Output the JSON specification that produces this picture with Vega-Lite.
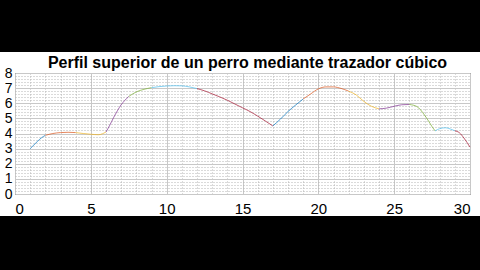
{
  "$schema": "https://vega.github.io/schema/vega-lite/v6.json",
  "width": 455,
  "height": 121,
  "autosize": {"type": "none"},
  "padding": {"left": 15, "top": 73, "right": 10, "bottom": 76},
  "background": "white",
  "config": {"view": {"stroke": "#262626", "strokeWidth": 1}},
  "title": {"text": "Perfil superior de un perro mediante trazador cúbico", "font": "Liberation Sans", "fontSize": 16, "fontWeight": "bold", "color": "black", "offset": 0, "dy": 87, "dx": 5, "anchor": "middle", "frame": "group", "baseline": "bottom"},
  "datasets": {
    "curve": [
      {"x": 1, "y": 3.0, "s": 0}, {"x": 1.25, "y": 3.25, "s": 0}, {"x": 1.5, "y": 3.5, "s": 0}, {"x": 1.75, "y": 3.72, "s": 0}, {"x": 2, "y": 3.88, "s": 0},
      {"x": 2, "y": 3.88, "s": 1}, {"x": 2.5, "y": 4.0, "s": 1}, {"x": 3, "y": 4.06, "s": 1}, {"x": 3.5, "y": 4.08, "s": 1}, {"x": 4, "y": 4.06, "s": 1},
      {"x": 4, "y": 4.06, "s": 2}, {"x": 4.5, "y": 4.0, "s": 2}, {"x": 5, "y": 3.95, "s": 2}, {"x": 5.5, "y": 3.92, "s": 2}, {"x": 6, "y": 4.1, "s": 2},
      {"x": 6, "y": 4.1, "s": 3}, {"x": 6.25, "y": 4.55, "s": 3}, {"x": 6.5, "y": 5.05, "s": 3}, {"x": 6.75, "y": 5.5, "s": 3}, {"x": 7, "y": 5.9, "s": 3}, {"x": 7.25, "y": 6.2, "s": 3}, {"x": 7.5, "y": 6.45, "s": 3},
      {"x": 7.5, "y": 6.45, "s": 4}, {"x": 8, "y": 6.75, "s": 4}, {"x": 8.5, "y": 6.92, "s": 4}, {"x": 9, "y": 7.03, "s": 4},
      {"x": 9, "y": 7.03, "s": 5}, {"x": 9.5, "y": 7.1, "s": 5}, {"x": 10, "y": 7.14, "s": 5}, {"x": 10.5, "y": 7.16, "s": 5}, {"x": 11, "y": 7.15, "s": 5}, {"x": 11.5, "y": 7.08, "s": 5}, {"x": 12, "y": 6.97, "s": 5},
      {"x": 12, "y": 6.97, "s": 6}, {"x": 12.5, "y": 6.82, "s": 6}, {"x": 13, "y": 6.62, "s": 6}, {"x": 13.5, "y": 6.42, "s": 6}, {"x": 14, "y": 6.2, "s": 6}, {"x": 14.5, "y": 5.95, "s": 6}, {"x": 15, "y": 5.7, "s": 6}, {"x": 15.5, "y": 5.45, "s": 6}, {"x": 16, "y": 5.15, "s": 6}, {"x": 16.5, "y": 4.83, "s": 6}, {"x": 17, "y": 4.5, "s": 6},
      {"x": 17, "y": 4.5, "s": 7}, {"x": 17.5, "y": 4.95, "s": 7}, {"x": 18, "y": 5.45, "s": 7}, {"x": 18.5, "y": 5.88, "s": 7}, {"x": 19, "y": 6.28, "s": 7},
      {"x": 19, "y": 6.28, "s": 8}, {"x": 19.5, "y": 6.62, "s": 8}, {"x": 20, "y": 6.95, "s": 8}, {"x": 20.5, "y": 7.08, "s": 8}, {"x": 21, "y": 7.08, "s": 8}, {"x": 21.5, "y": 6.98, "s": 8}, {"x": 22, "y": 6.8, "s": 8},
      {"x": 22, "y": 6.8, "s": 9}, {"x": 22.5, "y": 6.55, "s": 9}, {"x": 23, "y": 6.12, "s": 9}, {"x": 23.5, "y": 5.8, "s": 9}, {"x": 24, "y": 5.63, "s": 9},
      {"x": 24, "y": 5.63, "s": 10}, {"x": 24.5, "y": 5.68, "s": 10}, {"x": 25, "y": 5.8, "s": 10}, {"x": 25.5, "y": 5.9, "s": 10}, {"x": 26, "y": 5.92, "s": 10},
      {"x": 26, "y": 5.92, "s": 11}, {"x": 26.5, "y": 5.78, "s": 11}, {"x": 27, "y": 5.22, "s": 11}, {"x": 27.3, "y": 4.77, "s": 11}, {"x": 27.5, "y": 4.45, "s": 11}, {"x": 27.7, "y": 4.17, "s": 11},
      {"x": 27.7, "y": 4.17, "s": 12}, {"x": 28, "y": 4.32, "s": 12}, {"x": 28.4, "y": 4.38, "s": 12}, {"x": 28.7, "y": 4.3, "s": 12}, {"x": 29, "y": 4.18, "s": 12},
      {"x": 29, "y": 4.18, "s": 13}, {"x": 29.3, "y": 4.05, "s": 13}, {"x": 29.6, "y": 3.7, "s": 13}, {"x": 30, "y": 3.1, "s": 13}
    ]
  },
  "layer": [
    {
      "data": {"name": "curve"},
      "mark": {"type": "line", "opacity": 0},
      "encoding": {
        "x": {"field": "x", "type": "quantitative", "scale": {"domain": [0, 30], "nice": false, "zero": false},
          "axis": {"title": null, "values": [1,2,3,4,6,7,8,9,11,12,13,14,16,17,18,19,21,22,23,24,26,27,28,29], "grid": true, "gridColor": "#b4b4b4", "gridDash": [1, 2], "gridWidth": 1, "labels": false, "ticks": false, "domain": false}},
        "y": {"field": "y", "type": "quantitative", "scale": {"domain": [0, 8], "nice": false, "zero": false},
          "axis": {"title": null, "values": [0.2,0.4,0.6,0.8,1.2,1.4,1.6,1.8,2.2,2.4,2.6,2.8,3.2,3.4,3.6,3.8,4.2,4.4,4.6,4.8,5.2,5.4,5.6,5.8,6.2,6.4,6.6,6.8,7.2,7.4,7.6,7.8], "grid": true, "gridColor": "#b4b4b4", "gridDash": [1, 2], "gridWidth": 1, "labels": false, "ticks": false, "domain": false}}
      }
    },
    {
      "data": {"name": "curve"},
      "mark": {"type": "line", "strokeWidth": 1, "opacity": 0.7, "interpolate": "monotone"},
      "encoding": {
        "x": {"field": "x", "type": "quantitative", "scale": {"domain": [0, 30], "nice": false, "zero": false},
          "axis": {"title": null, "orient": "bottom", "values": [0,5,10,15,20,25,30], "grid": true, "gridColor": "#c8c8c8", "gridWidth": 1, "ticks": false, "domain": false, "labelFont": "Liberation Sans", "labelFontSize": 15, "labelColor": "black", "labelPadding": 7}},
        "y": {"field": "y", "type": "quantitative", "scale": {"domain": [0, 8], "nice": false, "zero": false},
          "axis": {"title": null, "orient": "left", "values": [0,1,2,3,4,5,6,7,8], "grid": true, "gridColor": "#c8c8c8", "gridWidth": 1, "ticks": false, "domain": false, "labelFont": "Liberation Sans", "labelFontSize": 14, "labelColor": "black", "labelPadding": 3}},
        "color": {"field": "s", "type": "nominal", "legend": null,
          "scale": {"domain": [0,1,2,3,4,5,6,7,8,9,10,11,12,13], "range": ["#0072BD","#D95319","#EDB120","#7E2F8E","#77AC30","#4DBEEE","#A2142F","#0072BD","#D95319","#EDB120","#7E2F8E","#77AC30","#4DBEEE","#A2142F"]}},
        "detail": {"field": "s", "type": "nominal"},
        "order": {"field": "x", "type": "quantitative"}
      }
    },
    {
      "data": {"values": [{}]},
      "mark": {"type": "rect", "color": "black", "clip": false},
      "encoding": {
        "x": {"datum": -1, "type": "quantitative", "axis": null},
        "x2": {"datum": 30.7},
        "y": {"datum": 9.39, "type": "quantitative", "axis": null},
        "y2": {"datum": 12.83}
      }
    },
    {
      "data": {"values": [{}]},
      "mark": {"type": "rect", "color": "black", "clip": false},
      "encoding": {
        "x": {"datum": -1, "type": "quantitative", "axis": null},
        "x2": {"datum": 30.7},
        "y": {"datum": -1.455, "type": "quantitative", "axis": null},
        "y2": {"datum": -5.1}
      }
    }
  ],
  "resolve": {"axis": {"x": "independent", "y": "independent"}}
}
